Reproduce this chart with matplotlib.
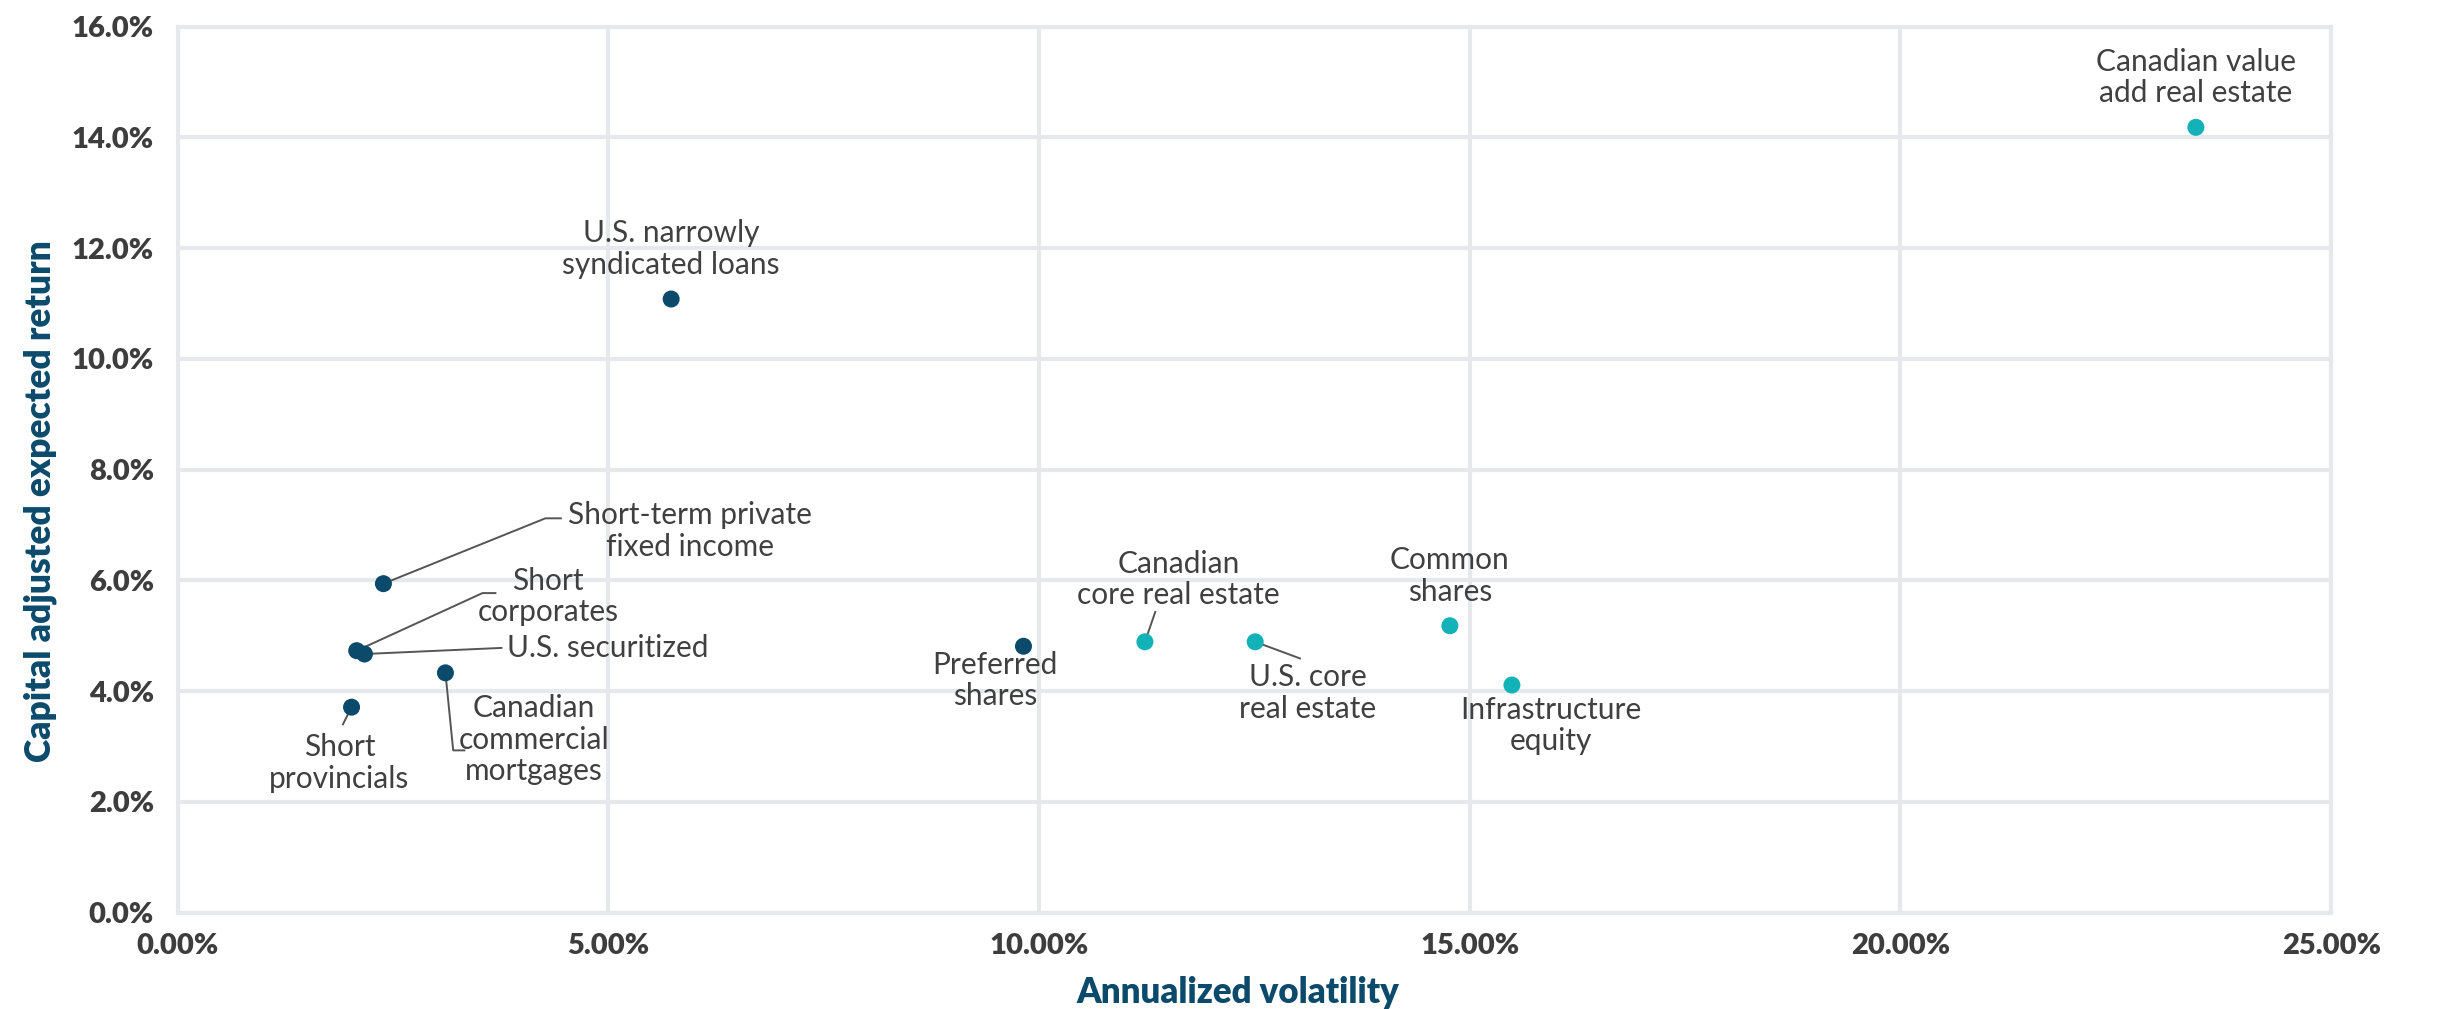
import matplotlib
matplotlib.use("Agg")
import matplotlib.pyplot as plt
from matplotlib.ticker import FuncFormatter, MultipleLocator

# asset class data (annualized volatility %, capital adjusted expected return %)
names = [
    "U.S. narrowly\nsyndicated loans",
    "Canadian value\nadd real estate",
    "Short-term private\nfixed income",
    "Short\ncorporates",
    "U.S. securitized",
    "Canadian\ncommercial\nmortgages",
    "Short\nprovincials",
    "Preferred\nshares",
    "Canadian\ncore real estate",
    "U.S. core\nreal estate",
    "Common\nshares",
    "Infrastructure\nequity",
]
volatility = [5.73, 23.43, 2.39, 2.08, 2.17, 3.11, 2.02, 9.82, 11.23, 12.51, 14.77, 15.49]
exp_return = [11.08, 14.18, 5.94, 4.73, 4.67, 4.33, 3.71, 4.81, 4.89, 4.89, 5.18, 4.11]
group = ["fi", "re", "fi", "fi", "fi", "fi", "fi", "fi", "re", "re", "re", "re"]

NAVY = "#0b4a6b"
TEAL = "#13b1b8"
GRID = "#e6e8ec"
TEXT = "#404040"

# label layout: text position, ha, leader path (list of points after the marker)
label_layout = [
    ((5.73, 11.98), "center", []),
    ((23.43, 15.08), "center", []),
    ((5.95, 6.89), "center", [(4.27, 7.12), (4.45, 7.12)]),
    ((4.30, 5.71), "center", [(3.54, 5.77), (3.69, 5.77)]),
    ((3.83, 4.78), "left", [(3.76, 4.78)]),
    ((4.14, 3.12), "center", [(3.20, 2.93), (3.33, 2.93)]),
    ((1.88, 2.70), "center", [(1.92, 3.40)]),
    ((9.49, 4.19), "center", []),
    ((11.62, 6.02), "center", [(11.35, 5.43)]),
    ((13.12, 3.97), "center", [(13.03, 4.59)]),
    ((14.77, 6.08), "center", []),
    ((15.94, 3.38), "center", []),
]

plt.rcParams["font.family"] = ["Lato", "DejaVu Sans"]

fig = plt.figure(figsize=(24.42, 10.09), dpi=100)
ax = fig.add_axes([0.0727, 0.0955, 0.8819, 0.8782])

colors = [NAVY if g == "fi" else TEAL for g in group]
ax.scatter(volatility, exp_return, s=150, c=colors, zorder=3, linewidths=0)

for i, name in enumerate(names):
    (tx, ty), ha, path = label_layout[i]
    if path:
        xs = [volatility[i]] + [p[0] for p in path]
        ys = [exp_return[i]] + [p[1] for p in path]
        ax.plot(xs, ys, color="#555555", lw=1.4, zorder=2)
    ax.text(tx, ty, name, ha=ha, va="center", fontsize=21.5, color=TEXT,
            linespacing=1.15, zorder=4)

ax.set_xlim(0, 25)
ax.set_ylim(0, 16)
ax.xaxis.set_major_locator(MultipleLocator(5))
ax.yaxis.set_major_locator(MultipleLocator(2))
ax.xaxis.set_major_formatter(FuncFormatter(lambda v, p: f"{v:.2f}%"))
ax.yaxis.set_major_formatter(FuncFormatter(lambda v, p: f"{v:.1f}%"))

ax.grid(True, color=GRID, lw=3, zorder=0)
ax.set_axisbelow(True)
for sp in ax.spines.values():
    sp.set_color(GRID)
    sp.set_linewidth(3)

ax.tick_params(length=0, labelsize=21, labelcolor="#3d3d3d")
ax.tick_params(axis="x", pad=15)
ax.tick_params(axis="y", pad=17)
for lbl in ax.get_xticklabels() + ax.get_yticklabels():
    lbl.set_fontweight("heavy")

ax.set_xlabel("Annualized volatility", fontsize=25, fontweight="heavy", color=NAVY)
ax.set_ylabel("Capital adjusted expected return", fontsize=25.5, fontweight="heavy", color=NAVY)
ax.xaxis.set_label_coords(0.4924, -0.072)
ax.yaxis.set_label_coords(-0.056, 0.464)

fig.savefig("out.png", dpi=100)
